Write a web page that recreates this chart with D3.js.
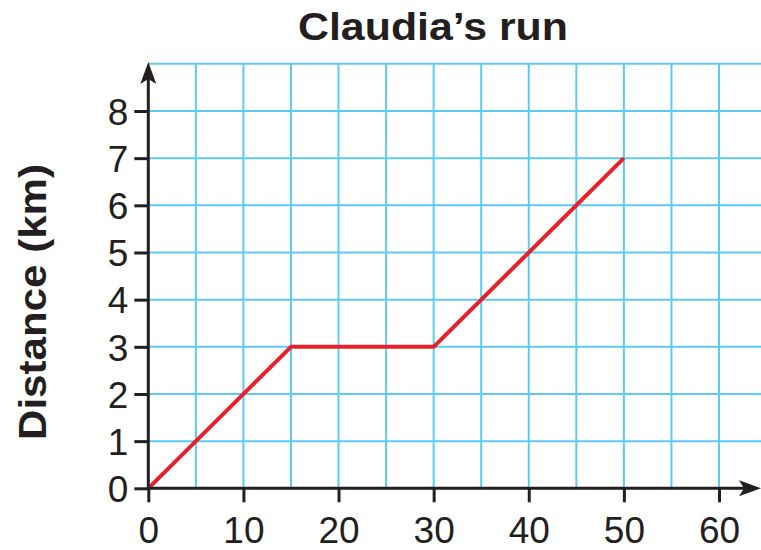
<!DOCTYPE html>
<html>
<head>
<meta charset="utf-8">
<script src="https://cdn.jsdelivr.net/npm/d3@7"></script>
<style>
  body { margin: 0; background: #fff; }
  text { font-family: "Liberation Sans", Arial, sans-serif; fill: #231f20; }
</style>
</head>
<body>
<script>
const width = 761;
const height = 550;

// data
const minutes = [0, 15, 30, 50];
const distance = [0, 3, 3, 7];
const xTicks = [0, 10, 20, 30, 40, 50, 60];
const yTicks = [0, 1, 2, 3, 4, 5, 6, 7, 8];
const xGrid = d3.range(5, 70, 5);
const yGrid = [1, 2, 3, 4, 5, 6, 7, 8, 9];

const svg = d3.select("body")
    .append("svg")
    .attr("width", width)
    .attr("height", height);

const x = d3.scaleLinear().domain([0, 60]).range([148.3, 719]);
const y = d3.scaleLinear().domain([0, 8]).range([488.3, 111]);

const gridColor = "#5ccbf3";
const axisColor = "#231f20";

// grid
svg.append("g").selectAll("line")
    .data(xGrid)
    .enter().append("line")
    .attr("x1", d => x(d)).attr("x2", d => x(d))
    .attr("y1", y(0)).attr("y2", y(9))
    .attr("stroke", gridColor).attr("stroke-width", 2);

svg.append("g").selectAll("line")
    .data(yGrid)
    .enter().append("line")
    .attr("x1", x(0)).attr("x2", width)
    .attr("y1", d => y(d)).attr("y2", d => y(d))
    .attr("stroke", gridColor).attr("stroke-width", 2);

// the run
const pts = minutes.map((m, i) => [m, distance[i]]);
svg.append("path")
    .datum(pts)
    .attr("fill", "none")
    .attr("stroke", "#e8202a")
    .attr("stroke-width", 4)
    .attr("stroke-linejoin", "round")
    .attr("d", d3.line().x(d => x(d[0])).y(d => y(d[1])));

// axes
const xAxis = svg.append("g")
    .attr("transform", `translate(0,${y(0)})`)
    .call(d3.axisBottom(x).tickValues(xTicks).tickSize(14).tickPadding(6).tickSizeOuter(0));
xAxis.select(".domain").remove();
xAxis.selectAll(".tick line").attr("stroke", axisColor).attr("stroke-width", 3);
xAxis.selectAll(".tick text").attr("font-size", 37).attr("dy", "0.95em");

const yAxis = svg.append("g")
    .attr("transform", `translate(${x(0)},0)`)
    .call(d3.axisLeft(y).tickValues(yTicks).tickSize(14).tickPadding(6).tickSizeOuter(0));
yAxis.select(".domain").remove();
yAxis.selectAll(".tick line").attr("stroke", axisColor).attr("stroke-width", 3);
yAxis.selectAll(".tick text").attr("font-size", 37).attr("dy", "0.36em");

// axis lines with arrows
svg.append("line")
    .attr("x1", x(0)).attr("x2", 748)
    .attr("y1", y(0)).attr("y2", y(0))
    .attr("stroke", axisColor).attr("stroke-width", 3);
svg.append("path")
    .attr("d", `M761,${y(0)} L739,${y(0) - 8} L744,${y(0)} L739,${y(0) + 8} Z`)
    .attr("fill", axisColor);

svg.append("line")
    .attr("x1", x(0)).attr("x2", x(0))
    .attr("y1", y(0) + 1).attr("y2", 75)
    .attr("stroke", axisColor).attr("stroke-width", 3);
svg.append("path")
    .attr("d", `M${x(0)},62 L${x(0) - 8},84 L${x(0)},79 L${x(0) + 8},84 Z`)
    .attr("fill", axisColor);

// title and label
svg.append("text")
    .attr("x", 433).attr("y", 40)
    .attr("text-anchor", "middle")
    .attr("font-size", 38).attr("font-weight", "bold")
    .attr("textLength", 270).attr("lengthAdjust", "spacingAndGlyphs")
    .text("Claudia\u2019s run");

svg.append("text")
    .attr("transform", "translate(46,302) rotate(-90)")
    .attr("text-anchor", "middle")
    .attr("font-size", 38).attr("font-weight", "bold")
    .attr("textLength", 276).attr("lengthAdjust", "spacingAndGlyphs")
    .text("Distance (km)");
</script>
</body>
</html>
